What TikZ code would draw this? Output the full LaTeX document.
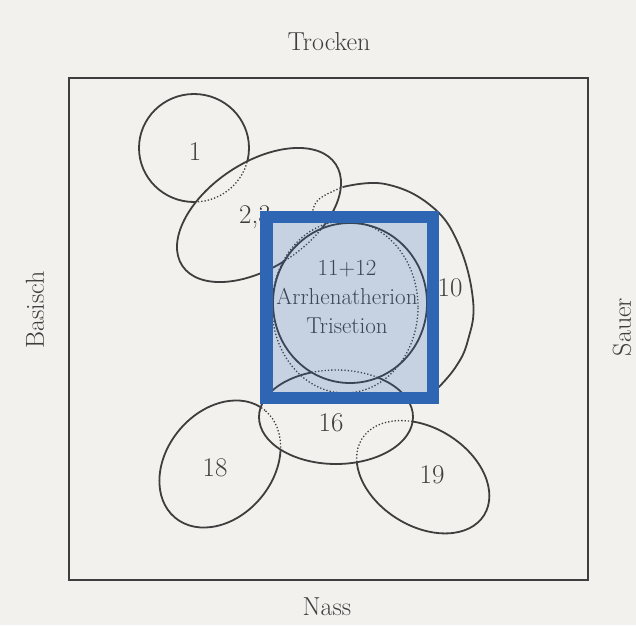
\documentclass[tikz,border=0pt]{standalone}
\usepackage{tikz}
\usetikzlibrary{positioning}
\definecolor{paper}{RGB}{242,241,238}
\definecolor{ink}{RGB}{62,62,62}
\definecolor{markblue}{RGB}{46,102,180}

% outlines of the associations
\newcommand{\circOne}{(194,477) ellipse [x radius=55pt, y radius=54pt]}
\newcommand{\ellTwoThree}{(259,410) ellipse [x radius=92pt, y radius=52.5pt, rotate=33.5]}
\newcommand{\circEleven}{(350,322) ellipse [x radius=77pt, y radius=80pt]}
\newcommand{\ellTwelve}{(345,318) ellipse [x radius=73pt, y radius=86pt]}
\newcommand{\ellSixteen}{(336,208) ellipse [x radius=77pt, y radius=47pt]}
\newcommand{\ellEighteen}{(220,161) ellipse [x radius=70pt, y radius=53pt, rotate=50]}
\newcommand{\ellNineteen}{(423,148) ellipse [x radius=72pt, y radius=49pt, rotate=-32]}
\newcommand{\outsideof}[1]{(0,0) -- (0,625) -- (636,625) -- (636,0) -- cycle #1}

\begin{document}
\begin{tikzpicture}[x=1pt, y=1pt,
    outline/.style={draw=ink, line width=1.8pt},
    hidden/.style={draw=ink, line width=1.3pt, dotted},
    axislbl/.style={text=ink, font=\fontsize{26}{30}\selectfont},
    numlbl/.style={text=ink, font=\fontsize{27}{30}\selectfont},
    namelbl/.style={text=ink, font=\fontsize{23}{29}\selectfont, align=center}]
    \fill[paper] (0,0) rectangle (636,625);
    \useasboundingbox (0,0) rectangle (636,625);

    % frame and axes
    \draw[outline] (69,45) rectangle (588,547);
    \node[axislbl] (dry) at (329,583) {Trocken};
    \node[axislbl] (wet) at (327,18) {Nass};
    \node[axislbl, rotate=90] (basic) at (35,315) {Basisch};
    \node[axislbl, rotate=90] (acid) at (622,298) {Sauer};

    % 1 (dotted inside 2,3)
    \begin{scope} \clip \outsideof{\ellTwoThree}; \draw[outline] \circOne; \end{scope}
    \begin{scope} \clip \ellTwoThree; \draw[hidden] \circOne; \end{scope}

    % 2,3 (dotted inside 11+12)
    \begin{scope} \clip \outsideof{\circEleven}; \draw[outline] \ellTwoThree; \end{scope}
    \begin{scope} \clip \circEleven; \draw[hidden] \ellTwoThree; \end{scope}

    % 10
    \draw[hidden] plot[smooth, tension=0.7] coordinates {(312,408) (318,425) (343,438)};
    \draw[outline] plot[smooth, tension=0.7] coordinates {(343,438) (385,441) (430,420) (458,382)
        (473,325) (468,285) (455,257) (433,232)};

    % 11+12
    \draw[outline] \circEleven;
    \draw[hidden] \ellTwelve;

    % 16 (dotted inside 11+12)
    \begin{scope} \clip \outsideof{\circEleven}; \draw[outline] \ellSixteen; \end{scope}
    \begin{scope} \clip \circEleven; \draw[hidden] \ellSixteen; \end{scope}

    % 18 and 19 (dotted inside 16)
    \begin{scope} \clip \outsideof{\ellSixteen};
        \draw[outline] \ellEighteen;
        \draw[outline] \ellNineteen;
    \end{scope}
    \begin{scope} \clip \ellSixteen;
        \draw[hidden] \ellEighteen;
        \draw[hidden] \ellNineteen;
    \end{scope}

    % labels
    \node[numlbl] (one) at (195,473) {1};
    \node[numlbl] (twothree) at (255,408) {2,3};
    \node[numlbl] (ten) at (450,337) {10};
    \node[namelbl] (eleven) at (347,328) {11+12\\Arrhenatherion\\Trisetion};
    \node[numlbl] (sixteen) at (331,202) {16};
    \node[numlbl] (eighteen) at (215,157) {18};
    \node[numlbl] (nineteen) at (432,150) {19};

    % highlight
    \draw[markblue, line width=12.5pt, fill=markblue, fill opacity=0.22] (266.5,227) rectangle (433,408);
\end{tikzpicture}
\end{document}
